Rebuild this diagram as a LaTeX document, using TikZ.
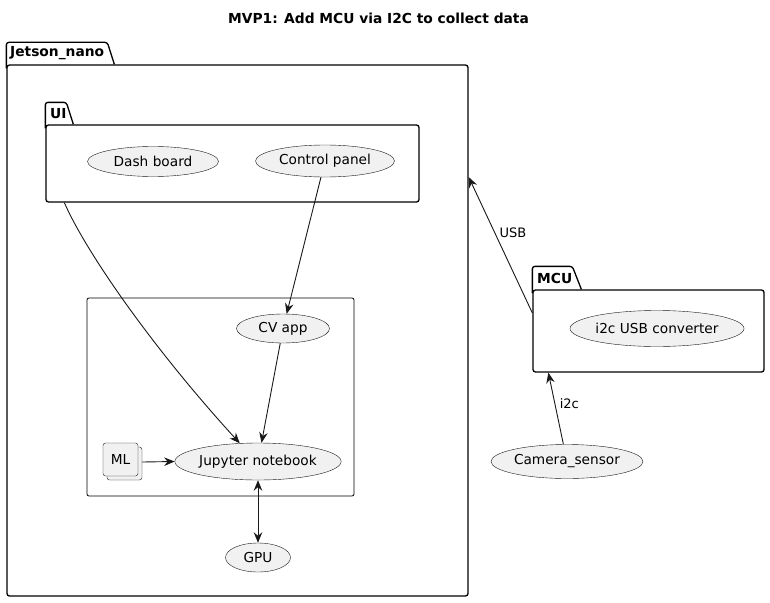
\documentclass[tikz,border=0pt]{standalone}
\usepackage{fontspec}
\setmainfont{DejaVu Sans}
\usetikzlibrary{shapes.geometric,arrows.meta,calc}
\definecolor{ufill}{HTML}{F1F1F1}
\definecolor{uline}{HTML}{181818}
\tikzset{
  pkgbody/.style={draw=black, line width=1.3pt, rounded corners=2.5pt, inner sep=0pt},
  pkgline/.style={draw=black, line width=1.3pt},
  pkgname/.style={font=\fontsize{13.8}{16}\selectfont\bfseries, anchor=west, inner sep=0pt},
  usecase/.style={ellipse, draw=uline, line width=0.4pt, fill=ufill, inner sep=0pt, font=\fontsize{13.7}{16}\selectfont},
  boxarea/.style={draw=black, line width=0.8pt, rounded corners=2pt, inner sep=0pt},
  mlbox/.style={draw=uline, line width=0.4pt, fill=ufill, rounded corners=2.5pt, inner sep=0pt, font=\fontsize{13.7}{16}\selectfont},
  arr/.style={draw=uline, line width=0.9pt, -{Stealth[length=10.5pt, width=8.5pt, inset=3.5pt]}},
  darr/.style={draw=uline, line width=0.9pt, {Stealth[length=10.5pt, width=8.5pt, inset=3.5pt]}-{Stealth[length=10.5pt, width=8.5pt, inset=3.5pt]}},
  elabel/.style={font=\fontsize{13}{15}\selectfont, anchor=west, inner sep=0pt},
}
\begin{document}
\begin{tikzpicture}[x=1pt,y=-1pt]
\useasboundingbox (0,0) rectangle (770,602);
% title
\node[font=\fontsize{13.8}{17}\selectfont\bfseries, inner sep=0pt] (title) at (378.5,18) {MVP1: Add MCU via I2C to collect data};

% Jetson_nano package
\node[pkgbody, minimum width=461pt, minimum height=531pt] (jetson) at (237.5,330.5) {};
\draw[pkgline, rounded corners=2.5pt] ([yshift=-4pt]jetson.north west) -- ++(0,-26) -- ++(101,0) [sharp corners] -- ([xshift=108pt]jetson.north west);
\node[pkgname] (jetsonname) at (10,53.5) {Jetson\_nano};

% UI package
\node[pkgbody, minimum width=373pt, minimum height=77pt] (ui) at (232.5,163.5) {};
\draw[pkgline, rounded corners=2.5pt] ([yshift=-4pt]ui.north west) -- ++(0,-26) -- ++(21,0) [sharp corners] -- ([xshift=28pt]ui.north west);
\node[pkgname] (uiname) at (50,113.5) {UI};

\node[usecase, minimum width=131pt, minimum height=30pt] (dash) at (153,161.5) {Dash board};
\node[usecase, minimum width=139pt, minimum height=32pt] (control) at (325,161) {Control panel};

% inner rectangle
\node[boxarea, minimum width=267pt, minimum height=198pt] (area) at (220.5,397) {};
\node[usecase, minimum width=93pt, minimum height=29pt] (cvapp) at (283,328.5) {CV app};
\node[usecase, minimum width=159pt, minimum height=37pt] (jupyter) at (258,461.5) {Jupyter notebook};
\draw[draw=uline, line width=0.4pt, fill=ufill, rounded corners=2.5pt] (107,447) rectangle (142,480);
\node[mlbox, minimum width=35pt, minimum height=33pt] (ml) at (120.5,459.5) {ML};

% GPU
\node[usecase, minimum width=65pt, minimum height=29pt] (gpu) at (258,557.5) {GPU};

% MCU package
\node[pkgbody, minimum width=231pt, minimum height=82pt] (mcu) at (648.5,331) {};
\draw[pkgline, rounded corners=2.5pt] ([yshift=-4pt]mcu.north west) -- ++(0,-27) -- ++(40,0) [sharp corners] -- ([xshift=49pt]mcu.north west);
\node[pkgname] (mcuname) at (537,278.5) {MCU};
\node[usecase, minimum width=163pt, minimum height=36pt] (conv) at (657,328.5) {i2c USB converter};

\node[usecase, minimum width=152pt, minimum height=34pt] (camera) at (567,461.5) {Camera\_sensor};

% connectors
\draw[arr] (control) -- (cvapp);
\draw[arr] (cvapp) -- (jupyter);
\draw[darr] (jupyter) -- (gpu);
\draw[arr] ([xshift=4pt,yshift=-2.5pt]ml.east) -- (jupyter.west);
\draw[arr] ([xshift=19pt]ui.south west) .. controls (85,250) and (150,345) .. (jupyter.135);
\draw[arr] (camera) -- node[elabel, pos=0.57, xshift=4.5pt] (lbli2c) {i2c} ([xshift=16pt]mcu.south west);
\draw[arr] ([yshift=18pt]mcu.west) -- node[elabel, pos=0.59, xshift=4.5pt] (lblusb) {USB} ([yshift=153.5pt]jetson.east);
\end{tikzpicture}
\end{document}
